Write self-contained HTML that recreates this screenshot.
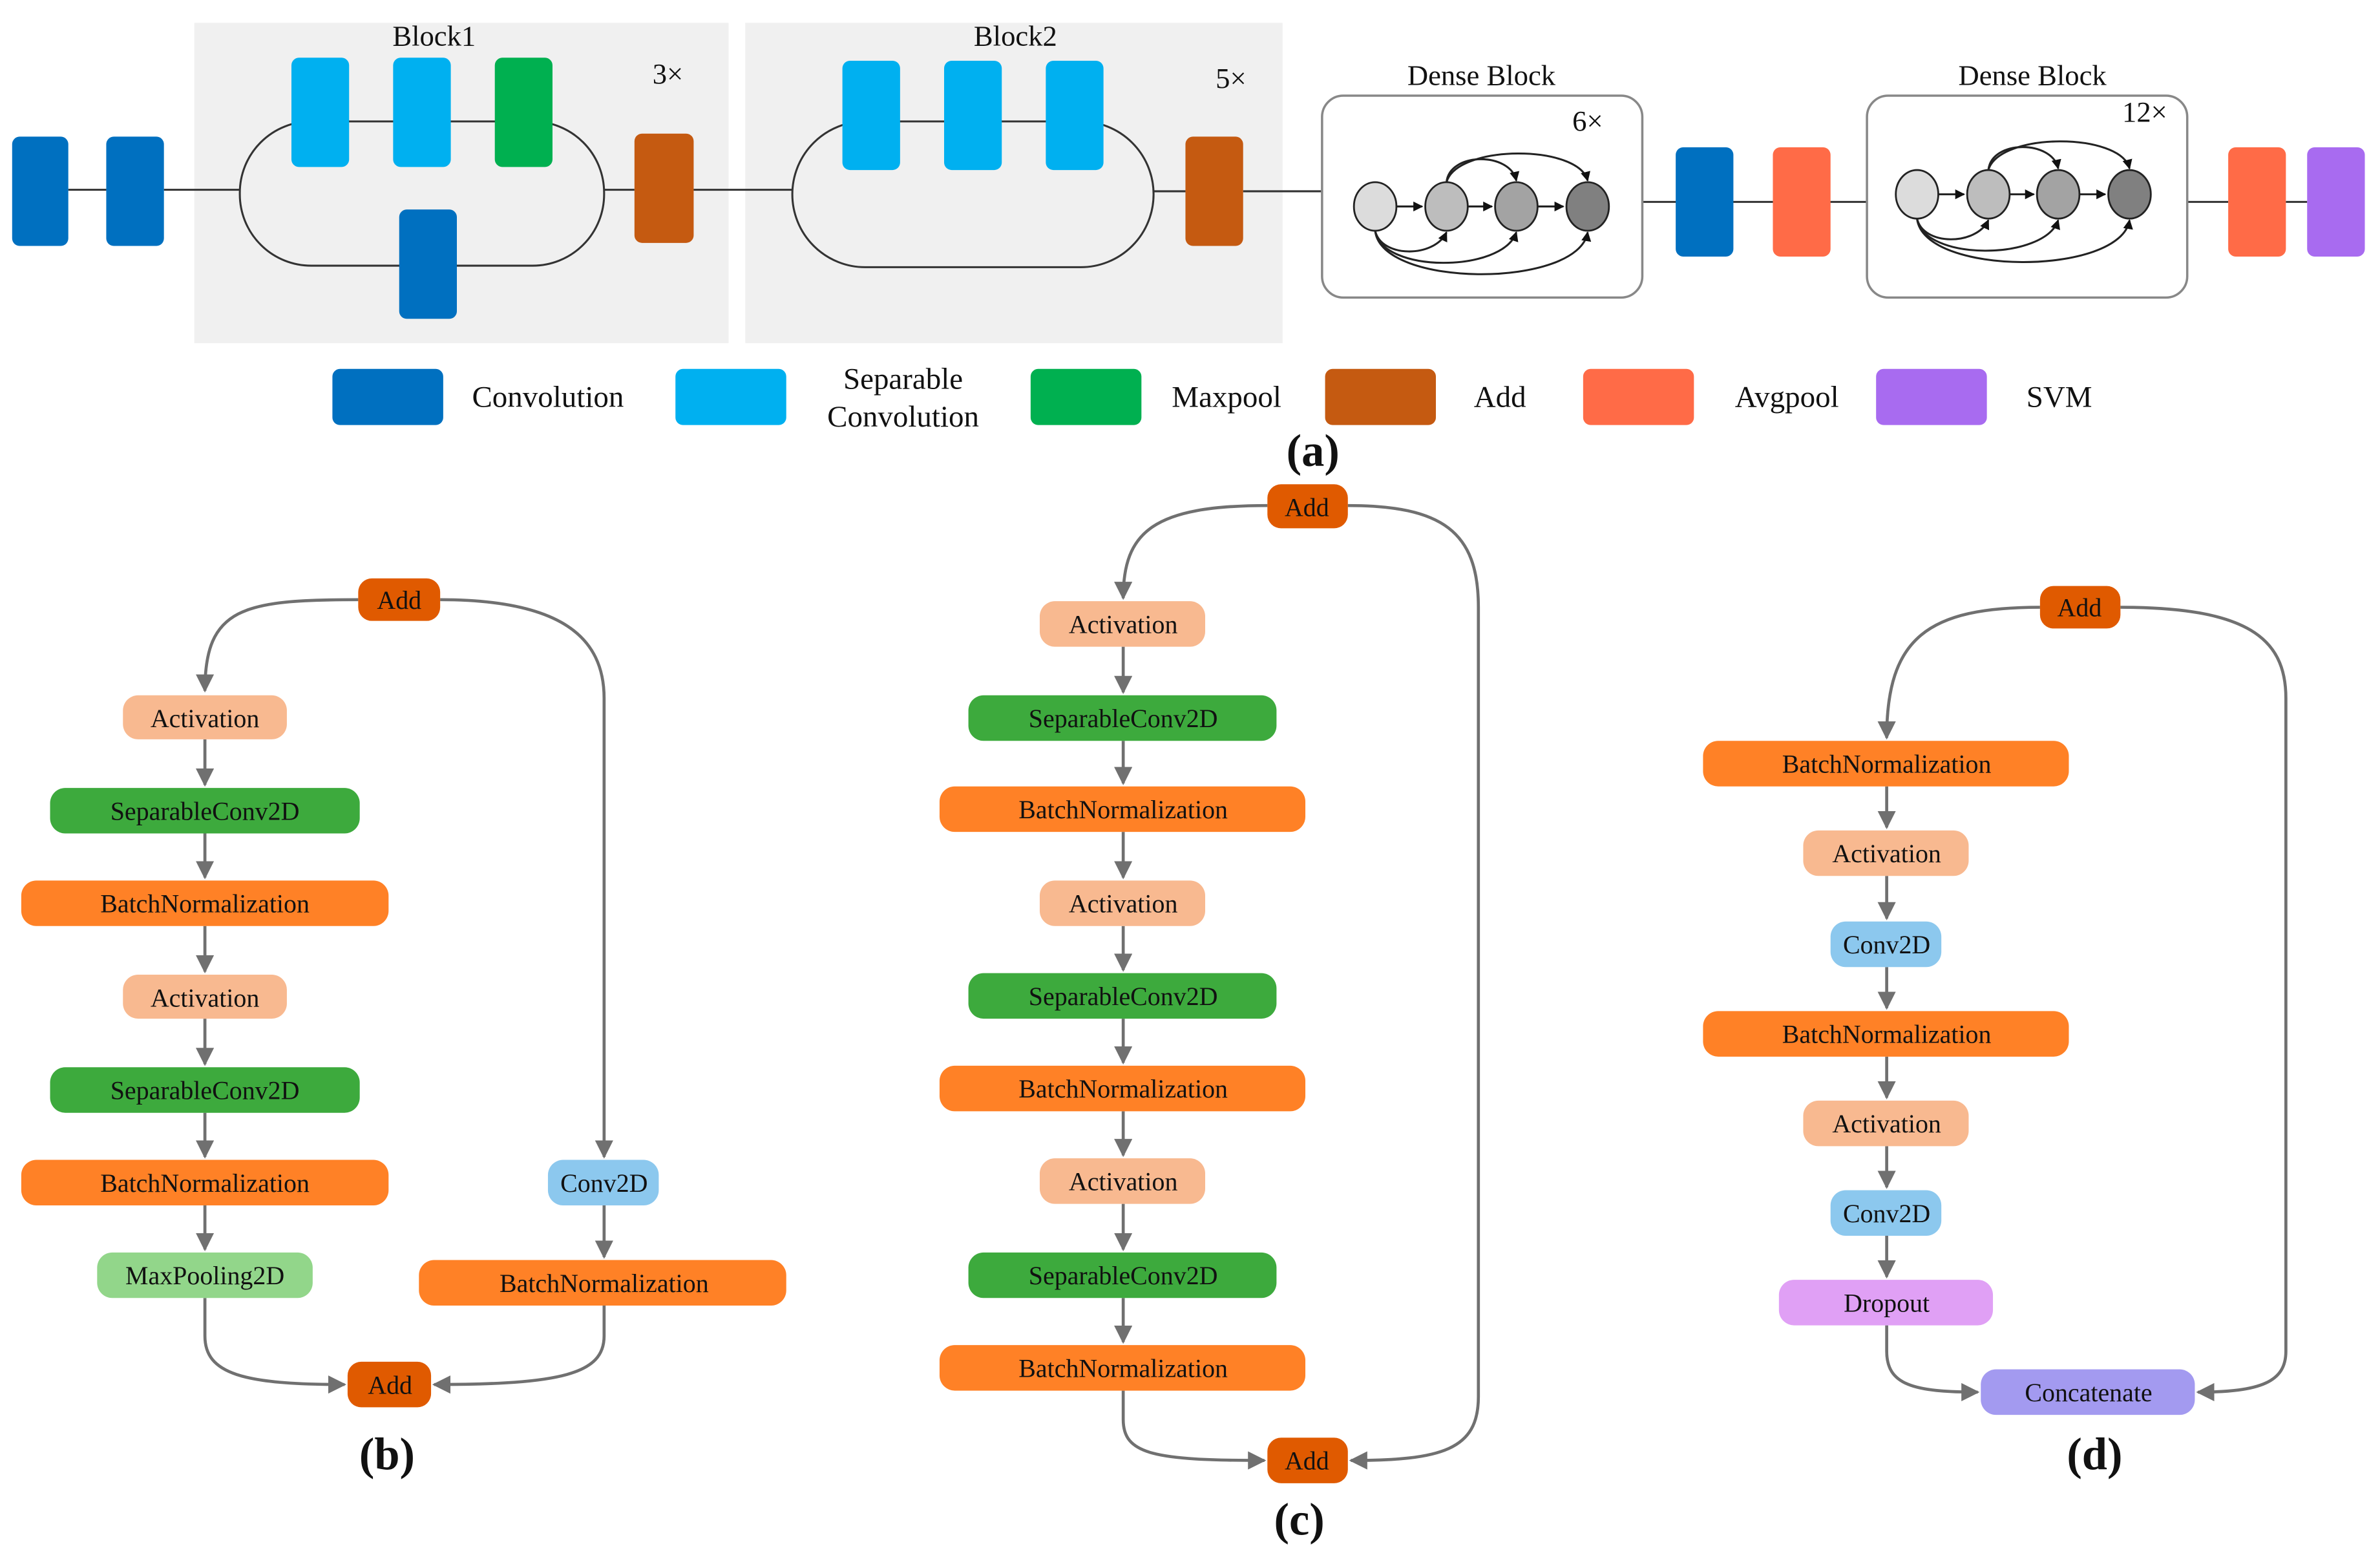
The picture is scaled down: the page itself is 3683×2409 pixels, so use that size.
<!DOCTYPE html>
<html><head><meta charset="utf-8"><style>
html,body{margin:0;padding:0;background:#fff;}
svg{display:block;font-family:"Liberation Serif",serif;}
svg text{font-family:"Liberation Serif",serif;}
</style></head><body>
<svg width="3683" height="2409" viewBox="0 0 1568 1025.6" preserveAspectRatio="none" xmlns="http://www.w3.org/2000/svg" font-family="Liberation Serif, serif">
<defs>
<marker id="ar" viewBox="0 0 10 10" refX="9" refY="5" markerWidth="6" markerHeight="6" orient="auto"><path d="M0,0 L10,5 L0,10 z" fill="#707070"/></marker>
<marker id="ak" viewBox="0 0 10 10" refX="9" refY="5" markerWidth="5" markerHeight="5" orient="auto"><path d="M0,0 L10,5 L0,10 z" fill="#111"/></marker>
</defs>
<rect width="1568" height="1026" fill="#fff"/>
<rect x="128" y="15" width="352" height="211" fill="#f0f0f0"/>
<rect x="491" y="15" width="354" height="211" fill="#f0f0f0"/>
<g stroke="#333" stroke-width="1.3" fill="none">
<line x1="45" y1="125" x2="70" y2="125"/>
<line x1="108" y1="125" x2="158" y2="125"/>
<rect x="158" y="80" width="240" height="95" rx="47"/>
<line x1="398" y1="125" x2="418" y2="125"/>
<line x1="457" y1="125" x2="522" y2="125"/>
<rect x="522" y="80" width="238" height="96" rx="48"/>
<line x1="760" y1="126" x2="781" y2="126"/>
<line x1="819" y1="126" x2="871" y2="126"/>
<line x1="1082" y1="133" x2="1230" y2="133"/>
<line x1="1441" y1="133" x2="1468" y2="133"/>
<line x1="1506" y1="133" x2="1520" y2="133"/>
</g>
<g stroke="#888" stroke-width="1.5" fill="#fff">
<rect x="871" y="63" width="211" height="133" rx="14"/>
<rect x="1230" y="63" width="211" height="133" rx="14"/>
</g>
<g>
<rect x="8" y="90" width="37" height="72" rx="5" fill="#0070C0"/>
<rect x="70" y="90" width="38" height="72" rx="5" fill="#0070C0"/>
<rect x="192" y="38" width="38" height="72" rx="5" fill="#00B0F0"/>
<rect x="259" y="38" width="38" height="72" rx="5" fill="#00B0F0"/>
<rect x="326" y="38" width="38" height="72" rx="5" fill="#00B050"/>
<rect x="263" y="138" width="38" height="72" rx="5" fill="#0070C0"/>
<rect x="418" y="88" width="39" height="72" rx="5" fill="#C55A11"/>
<rect x="555" y="40" width="38" height="72" rx="5" fill="#00B0F0"/>
<rect x="622" y="40" width="38" height="72" rx="5" fill="#00B0F0"/>
<rect x="689" y="40" width="38" height="72" rx="5" fill="#00B0F0"/>
<rect x="781" y="90" width="38" height="72" rx="5" fill="#C55A11"/>
<rect x="1104" y="97" width="38" height="72" rx="5" fill="#0070C0"/>
<rect x="1168" y="97" width="38" height="72" rx="5" fill="#FF6B47"/>
<rect x="1468" y="97" width="38" height="72" rx="5" fill="#FF6B47"/>
<rect x="1520" y="97" width="38" height="72" rx="5" fill="#A86BF0"/>
</g>
<g stroke="#222" stroke-width="1.3" fill="none">
<path d="M920,136 L937,136" marker-end="url(#ak)"/><path d="M967,136 L983,136" marker-end="url(#ak)"/><path d="M1013,136 L1030,136" marker-end="url(#ak)"/>
<path d="M953,120 C955,100 995,100 999,119" marker-end="url(#ak)"/>
<path d="M953,120 C960,95 1040,95 1046,119" marker-end="url(#ak)"/>
<path d="M906,152 C910,170 945,170 953,153" marker-end="url(#ak)"/>
<path d="M906,152 C910,180 990,180 999,153" marker-end="url(#ak)"/>
<path d="M906,152 C910,190 1040,190 1046,153" marker-end="url(#ak)"/>
<path d="M1277,128 L1294,128" marker-end="url(#ak)"/><path d="M1324,128 L1340,128" marker-end="url(#ak)"/><path d="M1370,128 L1387,128" marker-end="url(#ak)"/>
<path d="M1310,112 C1312,92 1352,92 1356,111" marker-end="url(#ak)"/>
<path d="M1310,112 C1317,87 1397,87 1403,111" marker-end="url(#ak)"/>
<path d="M1263,144 C1267,162 1302,162 1310,145" marker-end="url(#ak)"/>
<path d="M1263,144 C1267,172 1347,172 1356,145" marker-end="url(#ak)"/>
<path d="M1263,144 C1267,182 1397,182 1403,145" marker-end="url(#ak)"/>
</g>
<g stroke="#222" stroke-width="1.2">
<ellipse cx="906" cy="136" rx="14" ry="16" fill="#dcdcdc"/><ellipse cx="953" cy="136" rx="14" ry="16" fill="#bdbdbd"/><ellipse cx="999" cy="136" rx="14" ry="16" fill="#a3a3a3"/><ellipse cx="1046" cy="136" rx="14" ry="16" fill="#808080"/>
<ellipse cx="1263" cy="128" rx="14" ry="16" fill="#dcdcdc"/><ellipse cx="1310" cy="128" rx="14" ry="16" fill="#bdbdbd"/><ellipse cx="1356" cy="128" rx="14" ry="16" fill="#a3a3a3"/><ellipse cx="1403" cy="128" rx="14" ry="16" fill="#808080"/>
</g>
<g font-size="19" fill="#111" text-anchor="middle">
<text x="286" y="30">Block1</text><text x="669" y="30">Block2</text>
<text x="440" y="55">3×</text><text x="811" y="58">5×</text>
<text x="976" y="56">Dense Block</text><text x="1339" y="56">Dense Block</text>
<text x="1046" y="86">6×</text><text x="1413" y="80">12×</text>
</g>
<rect x="219" y="243" width="73" height="37" rx="5" fill="#0070C0"/>
<rect x="445" y="243" width="73" height="37" rx="5" fill="#00B0F0"/>
<rect x="679" y="243" width="73" height="37" rx="5" fill="#00B050"/>
<rect x="873" y="243" width="73" height="37" rx="5" fill="#C55A11"/>
<rect x="1043" y="243" width="73" height="37" rx="5" fill="#FF6B47"/>
<rect x="1236" y="243" width="73" height="37" rx="5" fill="#A86BF0"/>
<g font-size="20" fill="#111">
<text x="311" y="268">Convolution</text>
<text x="595" y="256" text-anchor="middle">Separable</text><text x="595" y="281" text-anchor="middle">Convolution</text>
<text x="772" y="268">Maxpool</text><text x="971" y="268">Add</text><text x="1143" y="268">Avgpool</text><text x="1335" y="268">SVM</text>
</g>
<g font-size="30" font-weight="bold" fill="#111" text-anchor="middle">
<text x="865" y="307">(a)</text><text x="255" y="968">(b)</text><text x="856" y="1011">(c)</text><text x="1380" y="968">(d)</text>
</g>
<g stroke="#707070" stroke-width="2" fill="none">
<path d="M236,395 C160,395 135,400 135,455" marker-end="url(#ar)"/>
<path d="M290,395 C370,395 398,420 398,460 L398,762" marker-end="url(#ar)"/>
<path d="M135,487 L135,517" marker-end="url(#ar)"/><path d="M135,549 L135,578" marker-end="url(#ar)"/><path d="M135,610 L135,640" marker-end="url(#ar)"/><path d="M135,671 L135,701" marker-end="url(#ar)"/><path d="M135,733 L135,762" marker-end="url(#ar)"/><path d="M135,794 L135,823" marker-end="url(#ar)"/>
<path d="M398,794 L398,828" marker-end="url(#ar)"/>
<path d="M135,855 L135,880 C135,905 160,912 227,912" marker-end="url(#ar)"/>
<path d="M398,860 L398,880 C398,905 370,912 286,912" marker-end="url(#ar)"/>
<path d="M835,333 C760,333 740,350 740,394" marker-end="url(#ar)"/>
<path d="M888,333 C950,333 974,350 974,400 L974,920 C974,955 950,962 890,962" marker-end="url(#ar)"/>
<path d="M740,426 L740,456" marker-end="url(#ar)"/><path d="M740,488 L740,516" marker-end="url(#ar)"/><path d="M740,548 L740,578" marker-end="url(#ar)"/><path d="M740,610 L740,639" marker-end="url(#ar)"/><path d="M740,671 L740,700" marker-end="url(#ar)"/><path d="M740,732 L740,761" marker-end="url(#ar)"/><path d="M740,793 L740,823" marker-end="url(#ar)"/><path d="M740,855 L740,884" marker-end="url(#ar)"/>
<path d="M740,916 L740,935 C740,958 760,962 833,962" marker-end="url(#ar)"/>
<path d="M1344,400 C1270,400 1243,420 1243,486" marker-end="url(#ar)"/>
<path d="M1397,400 C1480,400 1506,420 1506,460 L1506,890 C1506,910 1490,917 1448,917" marker-end="url(#ar)"/>
<path d="M1243,518 L1243,545" marker-end="url(#ar)"/><path d="M1243,577 L1243,605" marker-end="url(#ar)"/><path d="M1243,637 L1243,664" marker-end="url(#ar)"/><path d="M1243,696 L1243,723" marker-end="url(#ar)"/><path d="M1243,755 L1243,782" marker-end="url(#ar)"/><path d="M1243,814 L1243,841" marker-end="url(#ar)"/>
<path d="M1243,873 L1243,890 C1243,912 1260,917 1303,917" marker-end="url(#ar)"/>
</g>
<g>
<rect x="236" y="381" width="54" height="28" rx="9" fill="#E05A00"/>
<rect x="81" y="458" width="108" height="29" rx="10" fill="#F8B990"/>
<rect x="33" y="519" width="204" height="30" rx="10" fill="#3DAA3D"/>
<rect x="14" y="580" width="242" height="30" rx="10" fill="#FF8126"/>
<rect x="81" y="642" width="108" height="29" rx="10" fill="#F8B990"/>
<rect x="33" y="703" width="204" height="30" rx="10" fill="#3DAA3D"/>
<rect x="14" y="764" width="242" height="30" rx="10" fill="#FF8126"/>
<rect x="64" y="825" width="142" height="30" rx="10" fill="#92D68A"/>
<rect x="361" y="764" width="73" height="30" rx="10" fill="#8CC8EE"/>
<rect x="276" y="830" width="242" height="30" rx="10" fill="#FF8126"/>
<rect x="229" y="897" width="55" height="30" rx="9" fill="#E05A00"/>
<rect x="835" y="319" width="53" height="29" rx="9" fill="#E05A00"/>
<rect x="685" y="396" width="109" height="30" rx="10" fill="#F8B990"/>
<rect x="638" y="458" width="203" height="30" rx="10" fill="#3DAA3D"/>
<rect x="619" y="518" width="241" height="30" rx="10" fill="#FF8126"/>
<rect x="685" y="580" width="109" height="30" rx="10" fill="#F8B990"/>
<rect x="638" y="641" width="203" height="30" rx="10" fill="#3DAA3D"/>
<rect x="619" y="702" width="241" height="30" rx="10" fill="#FF8126"/>
<rect x="685" y="763" width="109" height="30" rx="10" fill="#F8B990"/>
<rect x="638" y="825" width="203" height="30" rx="10" fill="#3DAA3D"/>
<rect x="619" y="886" width="241" height="30" rx="10" fill="#FF8126"/>
<rect x="835" y="947" width="53" height="30" rx="9" fill="#E05A00"/>
<rect x="1344" y="386" width="53" height="28" rx="9" fill="#E05A00"/>
<rect x="1122" y="488" width="241" height="30" rx="10" fill="#FF8126"/>
<rect x="1188" y="547" width="109" height="30" rx="10" fill="#F8B990"/>
<rect x="1206" y="607" width="73" height="30" rx="10" fill="#8CC8EE"/>
<rect x="1122" y="666" width="241" height="30" rx="10" fill="#FF8126"/>
<rect x="1188" y="725" width="109" height="30" rx="10" fill="#F8B990"/>
<rect x="1206" y="784" width="73" height="30" rx="10" fill="#8CC8EE"/>
<rect x="1172" y="843" width="141" height="30" rx="10" fill="#E0A0F5"/>
<rect x="1305" y="902" width="141" height="30" rx="10" fill="#A39AF0"/>
</g>
<g font-size="17" fill="#111" text-anchor="middle">
<text x="263" y="401">Add</text>
<text x="135" y="479">Activation</text><text x="135" y="540">SeparableConv2D</text><text x="135" y="601">BatchNormalization</text>
<text x="135" y="663">Activation</text><text x="135" y="724">SeparableConv2D</text><text x="135" y="785">BatchNormalization</text>
<text x="135" y="846">MaxPooling2D</text><text x="398" y="785">Conv2D</text><text x="398" y="851">BatchNormalization</text>
<text x="257" y="918">Add</text>
<text x="861" y="340">Add</text>
<text x="740" y="417">Activation</text><text x="740" y="479">SeparableConv2D</text><text x="740" y="539">BatchNormalization</text>
<text x="740" y="601">Activation</text><text x="740" y="662">SeparableConv2D</text><text x="740" y="723">BatchNormalization</text>
<text x="740" y="784">Activation</text><text x="740" y="846">SeparableConv2D</text><text x="740" y="907">BatchNormalization</text>
<text x="861" y="968">Add</text>
<text x="1370" y="406">Add</text>
<text x="1243" y="509">BatchNormalization</text><text x="1243" y="568">Activation</text><text x="1243" y="628">Conv2D</text>
<text x="1243" y="687">BatchNormalization</text><text x="1243" y="746">Activation</text><text x="1243" y="805">Conv2D</text>
<text x="1243" y="864">Dropout</text><text x="1376" y="923">Concatenate</text>
</g>
</svg>
</body></html>
